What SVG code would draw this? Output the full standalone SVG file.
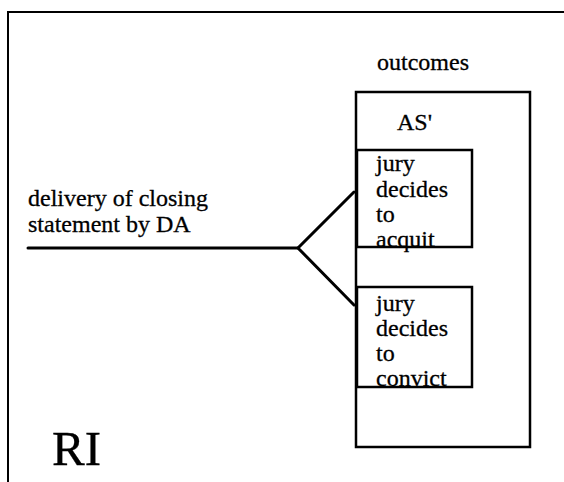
<svg xmlns="http://www.w3.org/2000/svg" width="564" height="482" viewBox="0 0 564 482">
<style>
.t{font-family:"Liberation Serif","Times New Roman",serif;fill:#000;stroke:#000;stroke-width:0.3;}
.m{font-size:24px;}
.box{fill:none;stroke:#000;stroke-width:2.5;}
.ln{fill:none;stroke:#000;stroke-width:3;stroke-linecap:round;stroke-linejoin:miter;}
</style>
<rect width="564" height="482" fill="#fff"/>
<g id="frame">
<path d="M8,482 V12 H564" fill="none" stroke="#000" stroke-width="2"/>
<text class="t" x="52" y="465" font-size="49">RI</text>
</g>
<g id="outcomes">
<text class="t m" x="377" y="70">outcomes</text>
<rect class="box" x="356" y="92" width="174" height="355"/>
<text class="t m" x="397" y="130">AS'</text>
</g>
<g id="acquit">
<text class="t m" x="376" y="171">jury</text>
<text class="t m" x="376" y="197">decides</text>
<text class="t m" x="376" y="222">to</text>
<text class="t m" x="376" y="247">acquit</text>
<rect class="box" x="357" y="150" width="115" height="97"/>
</g>
<g id="convict">
<text class="t m" x="376" y="311">jury</text>
<text class="t m" x="376" y="336">decides</text>
<text class="t m" x="376" y="361">to</text>
<text class="t m" x="376" y="386">convict</text>
<rect class="box" x="357" y="287" width="115" height="100"/>
</g>
<g id="event">
<text class="t m" x="28" y="206">delivery of closing</text>
<text class="t m" x="28" y="232">statement by DA</text>
</g>
<g id="connectors">
<path class="ln" d="M28,248 H298"/>
<path class="ln" d="M354,192 L298,248 L354,305"/>
</g>
</svg>
